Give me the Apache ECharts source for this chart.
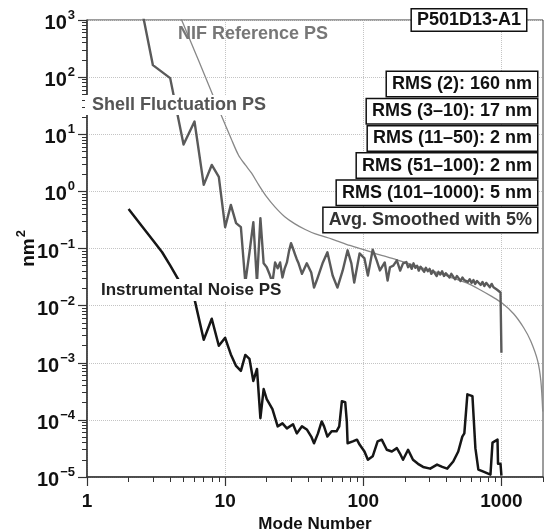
<!DOCTYPE html>
<html>
<head>
<meta charset="utf-8">
<script src="https://cdn.jsdelivr.net/npm/echarts@6.0.0/dist/echarts.min.js"></script>
<style>
html, body { margin: 0; padding: 0; background: #fff; }
#main { width: 547px; height: 532px; }
</style>
</head>
<body>
<div id="main"></div>
<script>
var FONT = '"Liberation Sans", Arial, Helvetica, sans-serif';

// NIF reference spectrum
var nifModes = [4.5, 5, 5.5, 6, 7, 8, 9, 10, 11, 12.5,
    14, 15.5, 17.5, 20, 23, 27, 32, 38, 45, 60,
    80, 106, 132, 180, 230, 320, 420, 560, 700, 850,
    1000, 1225, 1450, 1630, 1830, 1930, 1991];
var nifPower = [1520, 830, 480, 290, 118, 54, 27, 14.8, 8.6, 4.3,
    2.9, 2.1, 1.3, 0.8, 0.53, 0.36, 0.27, 0.215, 0.18, 0.145,
    0.113, 0.092, 0.077, 0.062, 0.051, 0.040, 0.032, 0.025, 0.019, 0.0145,
    0.0113, 0.0072, 0.0041, 0.0024, 0.00108, 0.00048, 0.00014];

// shell fluctuation spectrum
var shellModes = [2, 3, 4, 5, 6, 7, 8, 9, 10, 11,
    12, 13, 14, 15, 16, 17, 18, 19, 20, 21,
    22, 23, 24, 25, 26, 27, 28, 29, 30, 31,
    32, 33, 34, 36, 39, 42, 44, 46, 51, 55,
    60, 65, 71, 77, 82, 86, 94, 102, 108, 117,
    125, 132, 143, 150, 156, 165, 175, 185, 194, 205,
    211, 218, 224, 231, 238, 245, 252, 260, 268, 276,
    284, 293, 302, 311, 320, 330, 340, 350, 361, 372,
    384, 396, 408, 421, 434, 448, 462, 476, 491, 506,
    522, 538, 555, 572, 590, 608, 627, 646, 666, 687,
    708, 730, 752, 776, 800, 825, 850, 876, 903, 931,
    960, 985, 1000];
var shellPower = [22000, 162, 96, 6.6, 16.7, 1.3, 2.9, 1.8, 0.236, 0.58,
    0.278, 0.236, 0.0254, 0.085, 0.289, 0.0254, 0.34, 0.055, 0.047, 0.035,
    0.0254, 0.057, 0.045, 0.057, 0.031, 0.045, 0.057, 0.09, 0.124, 0.10,
    0.08, 0.065, 0.055, 0.036, 0.055, 0.038, 0.0207, 0.0275, 0.057, 0.086,
    0.0337, 0.0207, 0.0413, 0.093, 0.055, 0.0254, 0.082, 0.067, 0.0337, 0.095,
    0.062, 0.0413, 0.057, 0.0275, 0.047, 0.05, 0.062, 0.041, 0.055, 0.058,
    0.047, 0.052, 0.044, 0.055, 0.046, 0.050, 0.041, 0.048, 0.043, 0.039,
    0.046, 0.040, 0.044, 0.036, 0.041, 0.038, 0.033, 0.039, 0.035, 0.040,
    0.033, 0.037, 0.034, 0.031, 0.036, 0.032, 0.029, 0.033, 0.030, 0.027,
    0.031, 0.028, 0.030, 0.026, 0.029, 0.025, 0.028, 0.024, 0.027, 0.025,
    0.023, 0.026, 0.022, 0.025, 0.023, 0.021, 0.024, 0.021, 0.022, 0.019,
    0.020, 0.017, 0.0015];

// instrumental noise spectrum
var noiseModes = [2, 2.5, 3, 3.5, 4, 4.5, 5, 6, 7, 8,
    9, 10, 11, 12, 13, 14, 15, 16, 17, 18,
    19, 20, 22, 24, 26, 28, 31, 33, 36, 39,
    42, 44, 47, 50, 52, 55, 59, 64, 67, 70,
    74, 76, 77, 84, 90, 94, 102, 108, 117, 127,
    136, 148, 161, 175, 184, 194, 211, 229, 249, 271,
    305, 342, 373, 405, 448, 487, 521, 539, 567, 617,
    648, 681, 741, 833, 862, 937, 945, 985, 1000];
var noisePower = [0.49, 0.246, 0.139, 0.086, 0.0506, 0.031, 0.02, 0.013, 0.00252, 0.0059,
    0.00198, 0.00273, 0.0014, 0.00088, 0.00072, 0.00137, 0.00117, 0.00048, 0.00078, 0.000107,
    0.000346, 0.000231, 0.000154, 0.000077, 0.000087, 0.000071, 0.000084, 0.000058, 0.000077, 0.000068,
    0.000051, 0.000039, 0.000058, 0.000094, 0.000077, 0.000051, 0.000063, 0.000063, 0.000077, 0.000212,
    0.000204, 0.000094, 0.000039, 0.000042, 0.000045, 0.000037, 0.000028, 0.00002, 0.000023, 0.000042,
    0.000045, 0.00003, 0.000028, 0.000032, 0.000026, 0.00002, 0.00003, 0.00002, 0.000017, 0.000015,
    0.000014, 0.0000165, 0.000015, 0.000014, 0.0000187, 0.000028, 0.000051, 0.000058, 0.00028, 0.00026,
    0.000032, 0.0000135, 0.0000124, 0.000011, 0.00004, 0.000045, 0.000017, 0.000017, 0.0000106];

var xMajor = [1, 10, 100, 1000];
var yMajor = [1e-5, 1e-4, 1e-3, 1e-2, 1e-1, 1, 10, 100, 1000];

var curveNames = ['NIF Reference PS', 'Shell Fluctuation PS', 'Instrumental Noise PS'];
var shotLabel = 'P501D13-A1';
var rmsNotes = ['RMS (2): 160 nm', 'RMS (3–10): 17 nm', 'RMS (11–50): 2 nm',
    'RMS (51–100): 2 nm', 'RMS (101–1000): 5 nm', 'Avg. Smoothed with 5%'];

function pairs(a, b) {
    return a.map(function (m, i) { return [m, b[i]]; });
}

// 2..9 between the decades
function minorTicks(major, last) {
    var out = [];
    major.forEach(function (m) {
        for (var k = 2; k <= 9; k++) {
            if (m * k <= last * 1.0001) out.push(m * k);
        }
    });
    return out;
}
var xMinor = minorTicks(xMajor, 2000);
var yMinor = minorTicks(yMajor.slice(0, -1), 1000);

function supLabel(v) {
    var p = Math.round(Math.log10(v));
    return '{b|10}{e|' + (p < 0 ? '\u2212' + (-p) : p) + '}';
}

var myChart = echarts.init(document.getElementById('main'));

var noteBoxes = rmsNotes.map(function (t, i) {
    return {
        type: 'text', x: 537, y: 84 + i * 27.2, z: 100,
        style: {
            text: t, align: 'right', verticalAlign: 'middle',
            fontSize: 18, fontWeight: 'bold', fontFamily: FONT,
            fill: i === 5 ? '#333' : '#111', lineHeight: 20,
            backgroundColor: '#fff', borderColor: '#111', borderWidth: 1.5,
            padding: [2, 5, 2, 5]
        }
    };
});

var option = {
    animation: false,
    grid: {
        left: 87, right: 4, top: 20, bottom: 55,
        outerBoundsMode: 'none', containLabel: false,
        show: true, borderColor: '#3a3a3a', borderWidth: 1, backgroundColor: '#fff'
    },
    xAxis: [
        {
            type: 'log', logBase: 10, min: 1, max: 2000, position: 'bottom',
            axisLine: { show: true, lineStyle: { color: '#333', width: 1.5 } },
            axisTick: { show: true, length: 9, customValues: xMajor, lineStyle: { color: '#333', width: 1.2 } },
            axisLabel: {
                customValues: xMajor, margin: 15, color: '#111',
                fontSize: 19, fontWeight: 'bold', fontFamily: FONT,
                formatter: function (v) { return String(Math.round(v)); }
            },
            splitLine: { show: true, lineStyle: { color: '#c4c4c4', type: 'dotted', width: 1 } },
            name: 'Mode Number', nameLocation: 'middle', nameGap: 38,
            nameTextStyle: { fontSize: 17, fontWeight: 'bold', color: '#111', fontFamily: FONT }
        },
        {
            type: 'log', logBase: 10, min: 1, max: 2000, position: 'bottom',
            axisLine: { show: false }, axisLabel: { show: false }, splitLine: { show: false },
            axisTick: { show: true, length: 5, customValues: xMinor, lineStyle: { color: '#333', width: 1 } }
        }
    ],
    yAxis: [
        {
            type: 'log', logBase: 10, min: 1e-5, max: 1000, position: 'left',
            axisLine: { show: true, lineStyle: { color: '#333', width: 1.5 } },
            axisTick: { show: true, length: 9, customValues: yMajor, lineStyle: { color: '#333', width: 1.2 } },
            axisLabel: {
                customValues: yMajor, margin: 12, formatter: supLabel,
                rich: {
                    b: { fontSize: 20, fontWeight: 'bold', color: '#111', fontFamily: FONT,
                        lineHeight: 20, padding: [7, 0, 0, 0] },
                    e: { fontSize: 13, fontWeight: 'bold', color: '#111', fontFamily: FONT,
                        lineHeight: 13, padding: [0, 0, 9, 1] }
                }
            },
            splitLine: { show: true, lineStyle: { color: '#c4c4c4', type: 'dotted', width: 1 } },
            name: '{n|nm}{s|2}', nameLocation: 'middle', nameGap: 52, nameRotate: 90,
            nameMoveOverlap: false,
            nameTextStyle: {
                rich: {
                    n: { fontSize: 19, fontWeight: 'bold', color: '#111', fontFamily: FONT,
                        lineHeight: 19, padding: [6, 0, 0, 0] },
                    s: { fontSize: 13, fontWeight: 'bold', color: '#111', fontFamily: FONT,
                        lineHeight: 13, padding: [0, 0, 9, 1] }
                }
            }
        },
        {
            type: 'log', logBase: 10, min: 1e-5, max: 1000, position: 'left',
            axisLine: { show: false }, axisLabel: { show: false }, splitLine: { show: false },
            axisTick: { show: true, length: 5, customValues: yMinor, lineStyle: { color: '#333', width: 1 } }
        }
    ],
    series: [
        {
            name: curveNames[0], type: 'line', data: pairs(nifModes, nifPower),
            showSymbol: false, smooth: 0.3, silent: true,
            lineStyle: { color: '#888', width: 1.3 }
        },
        {
            name: curveNames[1], type: 'line', data: pairs(shellModes, shellPower),
            showSymbol: false, silent: true,
            lineStyle: { color: '#5a5a5a', width: 2.4, join: 'round' }
        },
        {
            name: curveNames[2], type: 'line', data: pairs(noiseModes, noisePower),
            showSymbol: false, silent: true,
            lineStyle: { color: '#161616', width: 2.5, join: 'round' }
        }
    ],
    graphic: {
        elements: [
            {
                type: 'text', x: 178, y: 34, z: 100,
                style: { text: curveNames[0], align: 'left', verticalAlign: 'middle',
                    fontSize: 18, fontWeight: 'bold', fontFamily: FONT, fill: '#777' }
            },
            {
                type: 'text', x: 85, y: 105, z: 100,
                style: { text: curveNames[1], align: 'left', verticalAlign: 'middle',
                    fontSize: 18, fontWeight: 'bold', fontFamily: FONT, fill: '#555',
                    backgroundColor: '#fff', padding: [1, 4, 1, 7], lineHeight: 18 }
            },
            {
                type: 'text', x: 98, y: 290, z: 100,
                style: { text: curveNames[2], align: 'left', verticalAlign: 'middle',
                    fontSize: 17, fontWeight: 'bold', fontFamily: FONT, fill: '#222',
                    backgroundColor: '#fff', padding: [2, 3, 2, 3], lineHeight: 18 }
            },
            {
                type: 'text', x: 526, y: 20, z: 100,
                style: { text: shotLabel, align: 'right', verticalAlign: 'middle',
                    fontSize: 18, fontWeight: 'bold', fontFamily: FONT, fill: '#111',
                    lineHeight: 19, backgroundColor: '#fff', borderColor: '#111',
                    borderWidth: 1.5, padding: [1, 5, 1, 5] }
            }
        ].concat(noteBoxes)
    }
};

myChart.setOption(option);
</script>
</body>
</html>
